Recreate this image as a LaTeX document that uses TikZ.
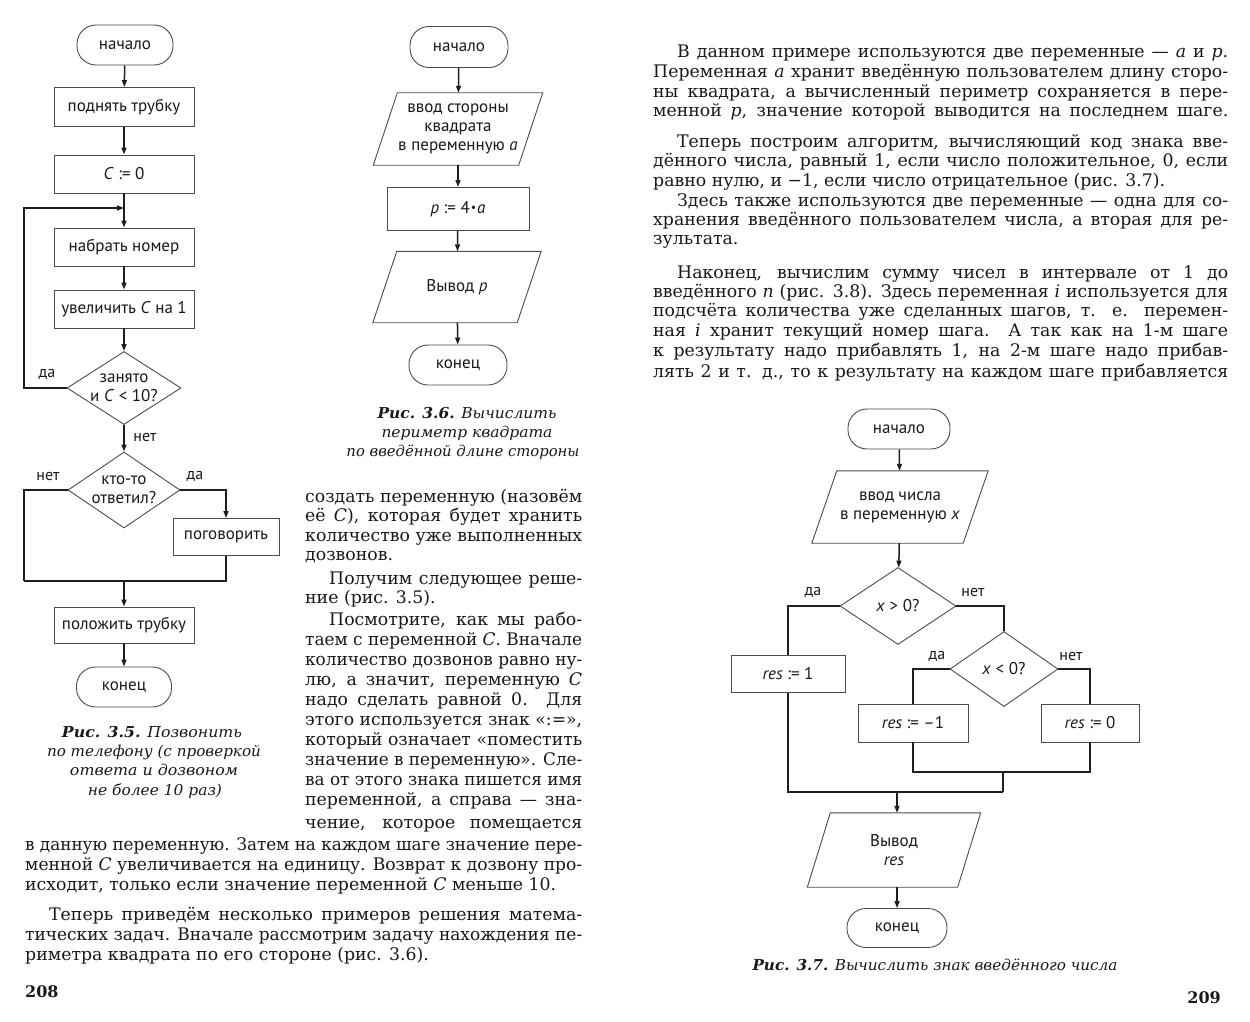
\documentclass[tikz,border=0pt]{standalone}
\usepackage{fontspec}
\usepackage{graphicx}
\setmainfont{DejaVu Serif}
\newfontfamily\fcfont{PT Sans}
\usetikzlibrary{shapes.geometric,arrows.meta}
\newlength\jlw
\newcommand\jline[2]{\settowidth\jlw{#2}\ifdim\jlw>#1\relax\resizebox{#1}{\height}{#2}\else\makebox[#1][s]{#2}\fi}
\newcommand\lline[2]{\settowidth\jlw{#2}\ifdim\jlw>#1\relax\resizebox{#1}{\height}{#2}\else#2\fi}
\newcommand\fitw[2]{\resizebox{#1}{\height}{#2}}
\newcommand\ind{\hspace*{24pt}}
\newcommand\iopara[2]{\draw[fline] (#1.south west) -- ([xshift=-#2]#1.south east) -- (#1.north east) -- ([xshift=#2]#1.north west) -- cycle;}
\tikzset{
  fline/.style={draw=black!70, line width=0.9pt},
  fbox/.style={fline, inner sep=0pt, fill=white, align=center, font=\fcfont\fontsize{17}{19}\selectfont, text=black!90},
  proc/.style 2 args={fbox, rectangle, minimum width=#1, minimum height=#2},
  term/.style 2 args={fbox, rectangle, rounded corners=19pt, minimum width=#1, minimum height=#2},
  dec/.style 2 args={fbox, diamond, minimum width=#1, minimum height=#2},
  iobox/.style 2 args={inner sep=0pt, align=center, font=\fcfont\fontsize{17}{19}\selectfont, text=black!90, minimum width=#1, minimum height=#2},
  ftext/.style={inner sep=0pt, align=center, font=\fcfont\fontsize{17}{19}\selectfont, text=black!90},
  lbl/.style={inner sep=0pt, font=\fcfont\fontsize{16}{18}\selectfont, text=black!90},
  conn/.style={line width=1.5pt, black!88},
  arr/.style={conn, -{Triangle[length=7pt,width=5pt]}},
  body/.style={anchor=base west, inner sep=0pt, font=\fontsize{17.3}{20}\selectfont, text=black!90},
  captxt/.style={anchor=base, inner sep=0pt, font=\itshape\fontsize{15}{18}\selectfont, text=black!90},
}
\begin{document}
\begin{tikzpicture}[x=1pt,y=-1pt]
\useasboundingbox (0,0) rectangle (1250,1022);
\fill[white] (0,0) rectangle (1250,1022);

% ---------------- left flowchart (3.5)
\node[term={96pt}{40pt}] (L0) at (125,45) {начало};
\node[proc={140pt}{39pt}] (L1) at (124,107) {поднять трубку};
\node[proc={140pt}{38pt}] (L2) at (124,174) {\textit{C} := 0};
\node[proc={140pt}{38pt}] (L3) at (124,247) {набрать номер};
\node[proc={140pt}{38pt}] (L4) at (124,309) {увеличить \textit{C} на 1};
\node[dec={114pt}{73pt}] (L5) at (124,388) {};
\node[ftext] (L5t) at (L5.center) {занято\\и \textit{C} < 10?};
\node[dec={112pt}{76pt}] (L6) at (124,490) {};
\node[ftext] (L6t) at (L6.center) {кто-то\\ответил?};
\node[proc={106pt}{37pt}] (L7) at (226,537) {поговорить};
\node[proc={140pt}{36pt}] (L8) at (124,625) {положить трубку};
\node[term={95pt}{40pt}] (L9) at (124,687) {конец};
\coordinate (m1) at (124,208);
\coordinate (j0) at (24,581);
\coordinate (j1) at (124,581);

\draw[arr] (L0) -- (L1);
\draw[arr] (L1) -- (L2);
\draw[arr] (L2) -- (L3);
\draw[arr] (L3) -- (L4);
\draw[arr] (L4) -- (L5);
\draw[arr] (L5.west) -| (24,208) -- (m1);
\draw[arr] (L5) -- (L6);
\draw[arr] (L6.east) -| (L7.north);
\draw[conn] (L6.west) -| (j0);
\draw[conn] (L7.south) |- (j0);
\draw[arr] (j1) -- (L8);
\draw[arr] (L8) -- (L9);
\node[lbl] (la1) at (47,374) {да};
\node[lbl] (la2) at (145,437) {нет};
\node[lbl] (la3) at (48,476) {нет};
\node[lbl] (la4) at (195,476) {да};

\node[captxt] (c1a) at (152,737) {\fitw{180pt}{\textbf{Рис. 3.5.} Позвонить}};
\node[captxt] (c1b) at (154,756) {\fitw{214pt}{по телефону (с проверкой}};
\node[captxt] (c1c) at (154,775) {\fitw{168pt}{ответа и дозвоном}};
\node[captxt] (c1d) at (155,795) {\fitw{134pt}{не более 10 раз)}};

% ---------------- middle flowchart (3.6)
\node[term={98pt}{41pt}] (M0) at (459,47) {начало};
\node[iobox={169pt}{72pt}] (M1) at (458,129) {ввод стороны\\квадрата\\в переменную \textit{a}};
\iopara{M1}{24pt}
\node[proc={142pt}{43pt}] (M2) at (458,209) {\textit{p} := 4\kern1pt\raisebox{2pt}{\scalebox{0.7}{•}}\kern1pt\textit{a}};
\node[iobox={168pt}{71pt}] (M3) at (457,287) {Вывод \textit{p}};
\iopara{M3}{24pt}
\node[term={98pt}{40pt}] (M4) at (458,365) {конец};
\draw[arr] (M0) -- (M1);
\draw[arr] (M1) -- (M2);
\draw[arr] (M2) -- (M3);
\draw[arr] (M3) -- (M4);

\node[captxt] (c2a) at (467,418) {\fitw{179pt}{\textbf{Рис. 3.6.} Вычислить}};
\node[captxt] (c2b) at (467,437) {\fitw{171pt}{периметр квадрата}};
\node[captxt] (c2c) at (463,456) {\fitw{233pt}{по введённой длине стороны}};

% ---------------- right flowchart (3.7)
\node[term={102pt}{40pt}] (R0) at (899,429) {начало};
\node[iobox={176pt}{72pt}] (R1) at (900,507) {ввод числа\\в переменную \textit{x}};
\iopara{R1}{25pt}
\node[dec={116pt}{77pt}] (R2) at (898,606) {};
\node[ftext] (R2t) at (R2.center) {\textit{x} > 0?};
\node[proc={114pt}{37pt}] (R3) at (788,674) {\textit{res} := 1};
\node[dec={108pt}{75pt}] (R4) at (1004,669) {};
\node[ftext] (R4t) at (R4.center) {\textit{x} < 0?};
\node[proc={110pt}{38pt}] (R5) at (913,723) {\textit{res} := –1};
\node[proc={98pt}{38pt}] (R6) at (1090,723) {\textit{res} := 0};
\node[iobox={173pt}{74pt}] (R7) at (894,850) {Вывод\\\textit{res}};
\iopara{R7}{23pt}
\node[term={100pt}{39pt}] (R8) at (897,928) {конец};
\coordinate (j2) at (1003,772);
\coordinate (j3) at (1003,792);
\coordinate (j4) at (897,792);

\draw[arr] (R0) -- (R1);
\draw[arr] (R1) -- (R2);
\draw[conn] (R2.west) -| (R3.north);
\draw[conn] (R2.east) -| (R4.north);
\draw[conn] (R4.west) -| (R5.north);
\draw[conn] (R4.east) -| (R6.north);
\draw[conn] (R5.south) |- (j2) -| (R6.south);
\draw[conn] (j2) -- (j3);
\draw[conn] (R3.south) |- (j3);
\draw[arr] (j4) -- (j4 |- R7.north);
\draw[arr] (R8.north |- R7.south) -- (R8.north);
\node[lbl] (lb1) at (813,592) {да};
\node[lbl] (lb2) at (973,592) {нет};
\node[lbl] (lb3) at (937,656) {да};
\node[lbl] (lb4) at (1071,656) {нет};

\node[captxt] (c3) at (935,970) {\fitw{365pt}{\textbf{Рис. 3.7.} Вычислить знак введённого числа}};

% ---------------- middle column text (page 208)
\node[body] (t1) at (305,502) {\jline{277pt}{создать переменную (назовём}};
\node[body] (t2) at (305,521.5) {\jline{277pt}{её \textit{C}), которая будет хранить}};
\node[body] (t3) at (305,541) {\jline{277pt}{количество уже выполненных}};
\node[body] (t4) at (305,560.5) {\lline{277pt}{дозвонов.}};
\node[body] (t5) at (305,584) {\jline{277pt}{\ind Получим следующее реше-}};
\node[body] (t6) at (305,603) {\lline{277pt}{ние (рис. 3.5).}};
\node[body] (t7) at (305,625) {\jline{277pt}{\ind Посмотрите, как мы рабо-}};
\node[body] (t8) at (305,645) {\jline{277pt}{таем с переменной \textit{C}. Вначале}};
\node[body] (t9) at (305,665) {\jline{277pt}{количество дозвонов равно ну-}};
\node[body] (t10) at (305,685) {\jline{277pt}{лю, а значит, переменную \textit{C}}};
\node[body] (t11) at (305,705) {\jline{277pt}{надо сделать равной 0. Для}};
\node[body] (t12) at (305,725) {\jline{277pt}{этого используется знак «:=»,}};
\node[body] (t13) at (305,745) {\jline{277pt}{который означает «поместить}};
\node[body] (t14) at (305,765) {\jline{277pt}{значение в переменную». Сле-}};
\node[body] (t15) at (305,785) {\jline{277pt}{ва от этого знака пишется имя}};
\node[body] (t16) at (305,805) {\jline{277pt}{переменной, а справа — зна-}};
\node[body] (t17) at (305,828) {\jline{277pt}{чение, которое помещается}};
\node[body] (t18) at (25,850) {\jline{557pt}{в данную переменную. Затем на каждом шаге значение пере-}};
\node[body] (t19) at (25,870) {\jline{557pt}{менной \textit{C} увеличивается на единицу. Возврат к дозвону про-}};
\node[body] (t20) at (25,890) {\lline{557pt}{исходит, только если значение переменной \textit{C} меньше 10.}};
\node[body] (t21) at (25,920) {\jline{557pt}{\ind Теперь приведём несколько примеров решения матема-}};
\node[body] (t22) at (25,940) {\jline{557pt}{тических задач. Вначале рассмотрим задачу нахождения пе-}};
\node[body] (t23) at (25,960) {\lline{557pt}{риметра квадрата по его стороне (рис. 3.6).}};
\node[body, font=\bfseries\fontsize{16}{20}\selectfont] (pn1) at (25,997) {208};

% ---------------- right page text (page 209)
\node[body] (s1) at (653,58) {\jline{575pt}{\ind В данном примере используются две переменные — \textit{a} и \textit{p}.}};
\node[body] (s2) at (653,78) {\jline{575pt}{Переменная \textit{a} хранит введённую пользователем длину сторо-}};
\node[body] (s3) at (653,98) {\jline{575pt}{ны квадрата, а вычисленный периметр сохраняется в пере-}};
\node[body] (s4) at (653,117) {\jline{575pt}{менной \textit{p}, значение которой выводится на последнем шаге.}};
\node[body] (s5) at (653,147) {\jline{575pt}{\ind Теперь построим алгоритм, вычисляющий код знака вве-}};
\node[body] (s6) at (653,167) {\jline{575pt}{дённого числа, равный 1, если число положительное, 0, если}};
\node[body] (s7) at (653,186) {\lline{575pt}{равно нулю, и −1, если число отрицательное (рис. 3.7).}};
\node[body] (s8) at (653,206) {\jline{575pt}{\ind Здесь также используются две переменные — одна для со-}};
\node[body] (s9) at (653,225) {\jline{575pt}{хранения введённого пользователем числа, а вторая для ре-}};
\node[body] (s10) at (653,244) {\lline{575pt}{зультата.}};
\node[body] (s11) at (653,278) {\jline{575pt}{\ind Наконец, вычислим сумму чисел в интервале от 1 до}};
\node[body] (s12) at (653,297) {\jline{575pt}{введённого \textit{n} (рис. 3.8). Здесь переменная \textit{i} используется для}};
\node[body] (s13) at (653,316) {\jline{575pt}{подсчёта количества уже сделанных шагов, т. е. перемен-}};
\node[body] (s14) at (653,336) {\jline{575pt}{ная \textit{i} хранит текущий номер шага. А так как на 1-м шаге}};
\node[body] (s15) at (653,356) {\jline{575pt}{к результату надо прибавлять 1, на 2-м шаге надо прибав-}};
\node[body] (s16) at (653,377) {\jline{575pt}{лять 2 и т. д., то к результату на каждом шаге прибавляется}};
\node[body, anchor=base east, font=\bfseries\fontsize{16}{20}\selectfont] (pn2) at (1221,1003) {209};
\end{tikzpicture}
\end{document}
